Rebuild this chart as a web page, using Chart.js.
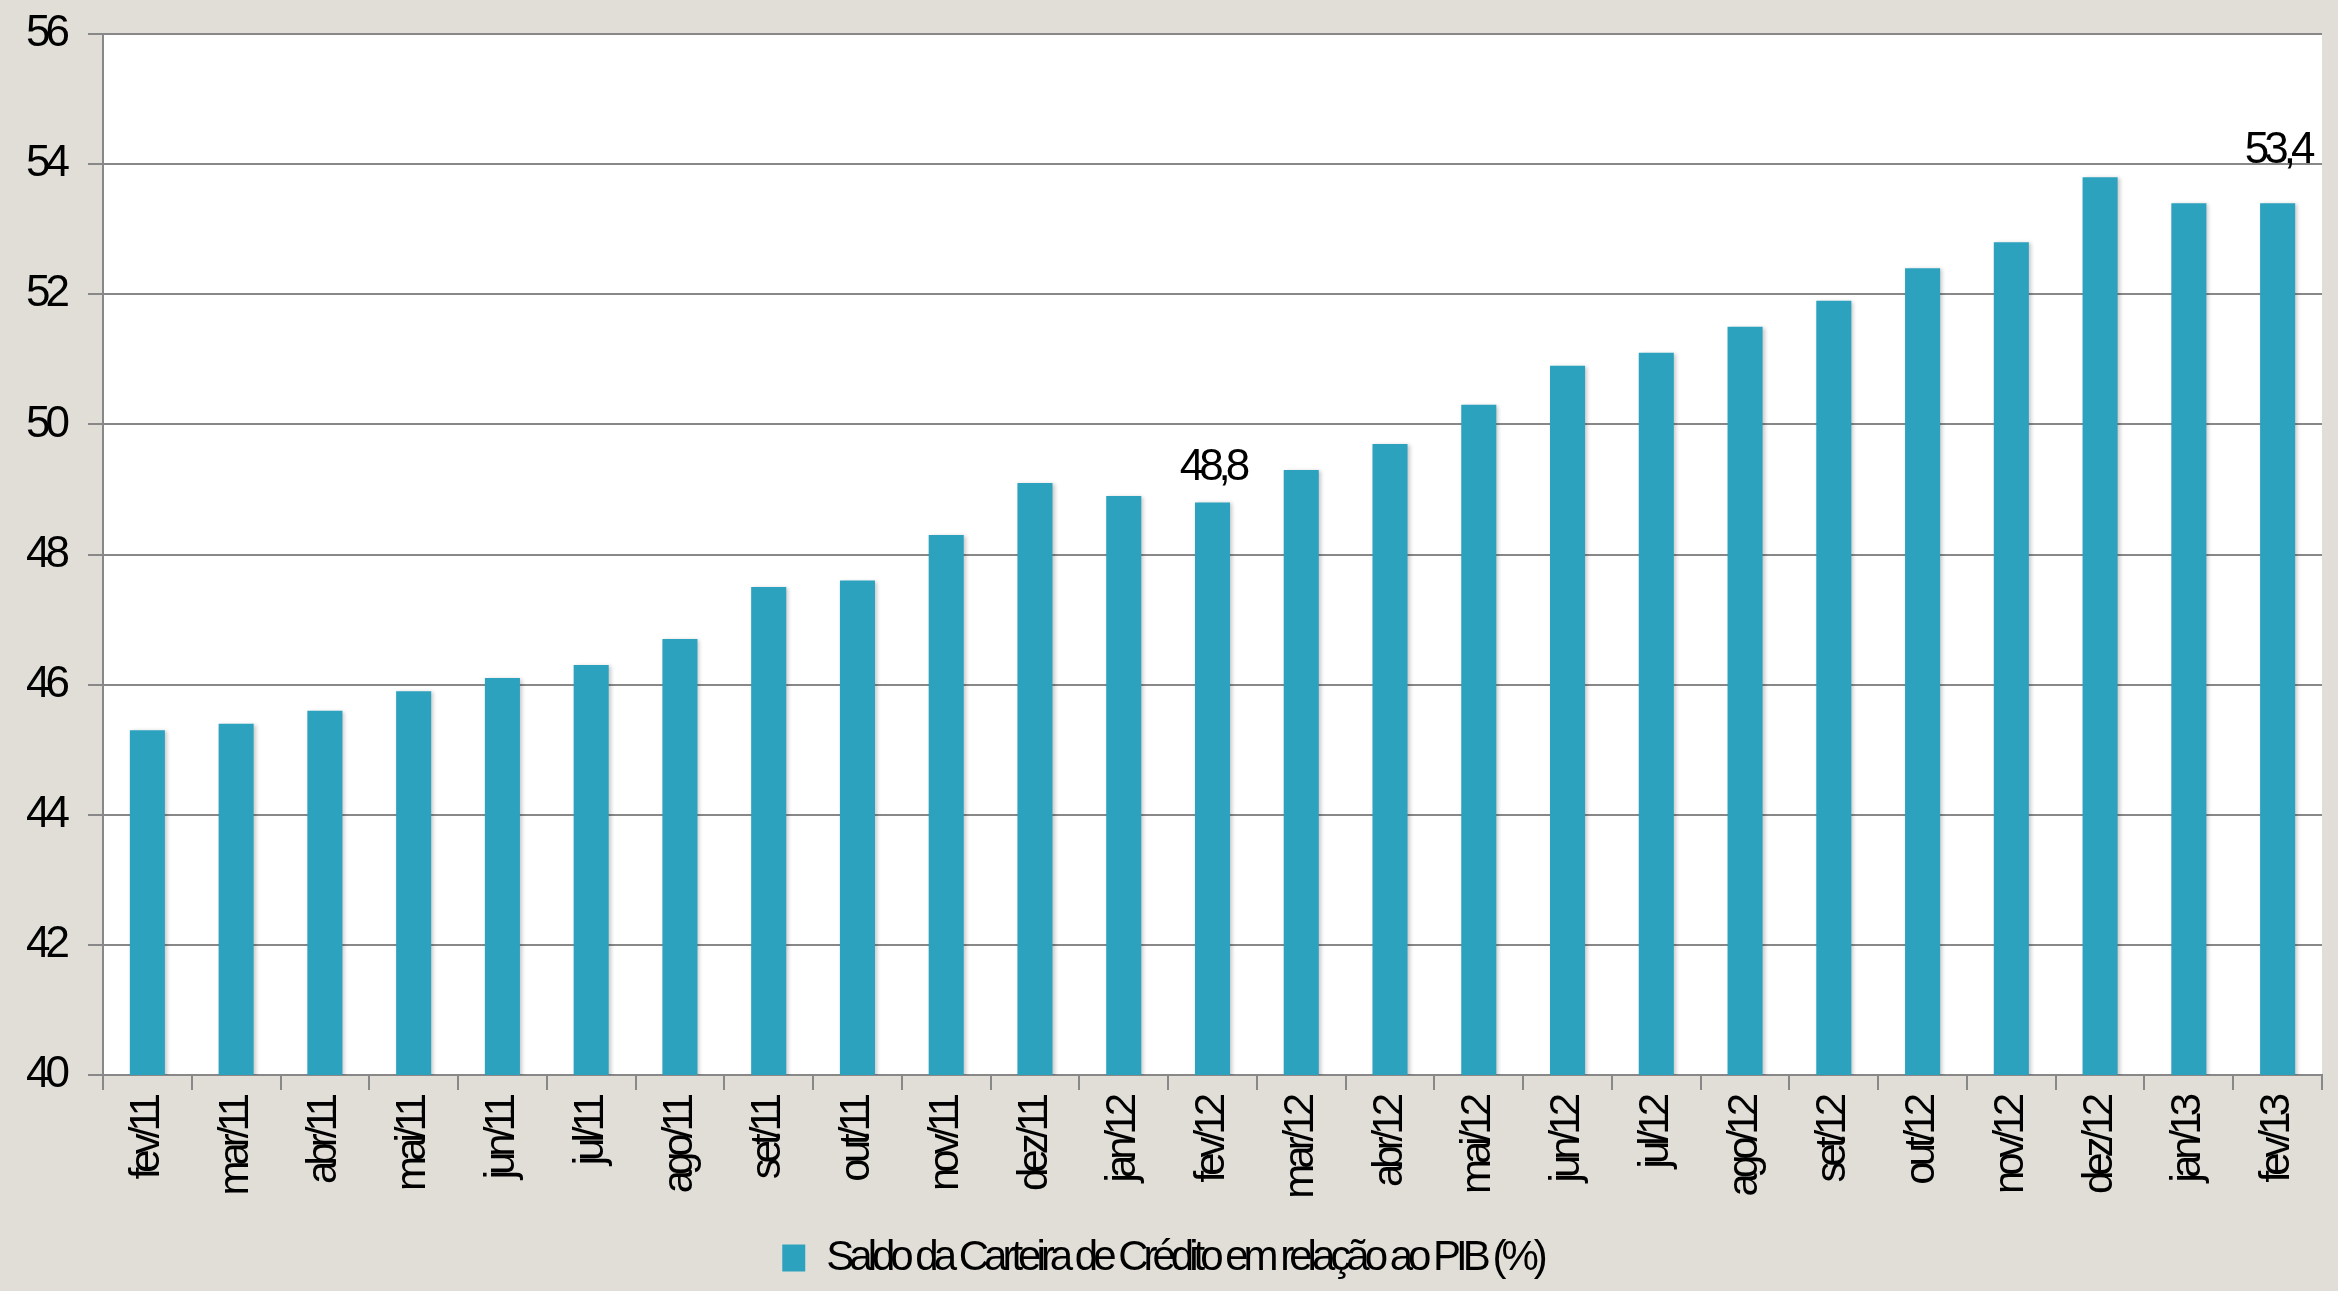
<!DOCTYPE html>
<html lang="pt-BR">
<head>
<meta charset="utf-8">
<title>Saldo da Carteira de Crédito em relação ao PIB</title>
<script src="https://cdn.jsdelivr.net/npm/chart.js@4.4.1/dist/chart.umd.min.js"></script>
<style>
    html, body { margin: 0; padding: 0; background: #e1ded8; overflow: hidden; }
    #wrap { width: 2338px; height: 1291px; }
</style>
</head>
<body>
<div id="wrap"><canvas id="creditChart" width="2338" height="1291"></canvas></div>
<script>
// data
const months = [
    "fev/11", "mar/11", "abr/11", "mai/11", "jun/11", "jul/11", "ago/11",
    "set/11", "out/11", "nov/11", "dez/11", "jan/12", "fev/12", "mar/12",
    "abr/12", "mai/12", "jun/12", "jul/12", "ago/12", "set/12", "out/12",
    "nov/12", "dez/12", "jan/13", "fev/13"
];
const creditToGdp = [
    45.3, 45.4, 45.6, 45.9, 46.1, 46.3, 46.7,
    47.5, 47.6, 48.3, 49.1, 48.9, 48.8, 49.3,
    49.7, 50.3, 50.9, 51.1, 51.5, 51.9, 52.4,
    52.8, 53.8, 53.4, 53.4
];
const yTicks = [40, 42, 44, 46, 48, 50, 52, 54, 56];
const labelledMonths = ["fev/12", "fev/13"];
const seriesName = "Saldo da Carteira de Crédito em relação ao PIB (%)";

const FONT = '"Liberation Sans", Arial, sans-serif';
const BAR = "#2ca2bf";
const GRID = "#888888";

// text in the original is squeezed together
const squeezeText = {
    id: "squeezeText",
    beforeUpdate(chart) { chart.ctx.letterSpacing = "-5px"; },
    beforeDraw(chart) { chart.ctx.letterSpacing = "-5px"; }
};

// white plot area
const plotBg = {
    id: "plotBg",
    beforeDraw(chart) {
        const { ctx, chartArea: a } = chart;
        ctx.save();
        ctx.fillStyle = "#ffffff";
        ctx.fillRect(a.left, a.top, a.right - a.left, a.bottom - a.top);
        ctx.restore();
    }
};

// soft shadow on bars
const barShadow = {
    id: "barShadow",
    beforeDatasetDraw(chart) {
        const ctx = chart.ctx;
        ctx.save();
        ctx.shadowColor = "rgba(0,0,0,0.22)";
        ctx.shadowBlur = 4;
        ctx.shadowOffsetX = 2;
        ctx.shadowOffsetY = 1;
    },
    afterDatasetDraw(chart) {
        chart.ctx.restore();
    }
};

// value labels over a couple of bars
const valueLabels = {
    id: "valueLabels",
    afterDatasetsDraw(chart) {
        const ctx = chart.ctx;
        const bars = chart.getDatasetMeta(0).data;
        ctx.save();
        ctx.font = "44px " + FONT;
        ctx.fillStyle = "#000";
        ctx.textAlign = "center";
        ctx.textBaseline = "alphabetic";
        labelledMonths.forEach((m, i) => {
            const idx = months.indexOf(m);
            const bar = bars[idx];
            const lift = i === labelledMonths.length - 1 ? 40 : 22;
            const txt = String(creditToGdp[idx]).replace(".", ",");
            ctx.fillText(txt, bar.x, bar.y - lift);
        });
        ctx.restore();
    }
};

if (document.getElementById("creditChart")) {
    const ctx = document.getElementById("creditChart");

    new Chart(ctx, {
        type: "bar",
        data: {
            labels: months,
            datasets: [
                {
                    label: seriesName,
                    data: creditToGdp,
                    backgroundColor: BAR,
                    borderWidth: 0,
                    categoryPercentage: 1,
                    barPercentage: 0.395,
                },
            ],
        },
        options: {
            responsive: false,
            animation: false,
            devicePixelRatio: 1,
            layout: {
                padding: { left: 3, top: 34, right: 16, bottom: 2 },
            },
            plugins: {
                tooltip: { enabled: false },
                legend: {
                    position: "bottom",
                    labels: {
                        boxWidth: 23,
                        boxHeight: 27,
                        color: "#000",
                        padding: 10,
                        font: { family: FONT, size: 42 },
                    },
                },
            },
            scales: {
                x: {
                    offset: true,
                    grid: {
                        offset: true,
                        drawOnChartArea: false,
                        drawTicks: true,
                        tickLength: 15,
                        color: GRID,
                        lineWidth: 2,
                    },
                    border: { display: true, color: GRID, width: 2 },
                    ticks: {
                        autoSkip: false,
                        maxRotation: 90,
                        minRotation: 90,
                        padding: 8,
                        color: "#000",
                        font: { family: FONT, size: 42 },
                    },
                    afterFit: (scale) => {
                        scale.height = 152;
                    },
                },
                y: {
                    min: 40,
                    max: 56,
                    afterBuildTicks: (scale) => {
                        scale.ticks = yTicks.map((v) => ({ value: v }));
                    },
                    afterFit: (scale) => {
                        scale.width = 100;
                        scale.paddingTop = 0;
                        scale.paddingBottom = 0;
                    },
                    grid: {
                        color: GRID,
                        lineWidth: 2,
                        tickLength: 15,
                        drawTicks: true,
                    },
                    border: { display: true, color: GRID, width: 2 },
                    ticks: {
                        padding: 23,
                        color: "#000",
                        font: { family: FONT, size: 44 },
                    },
                },
            },
        },
        plugins: [squeezeText, plotBg, barShadow, valueLabels],
    });
}
</script>
</body>
</html>
